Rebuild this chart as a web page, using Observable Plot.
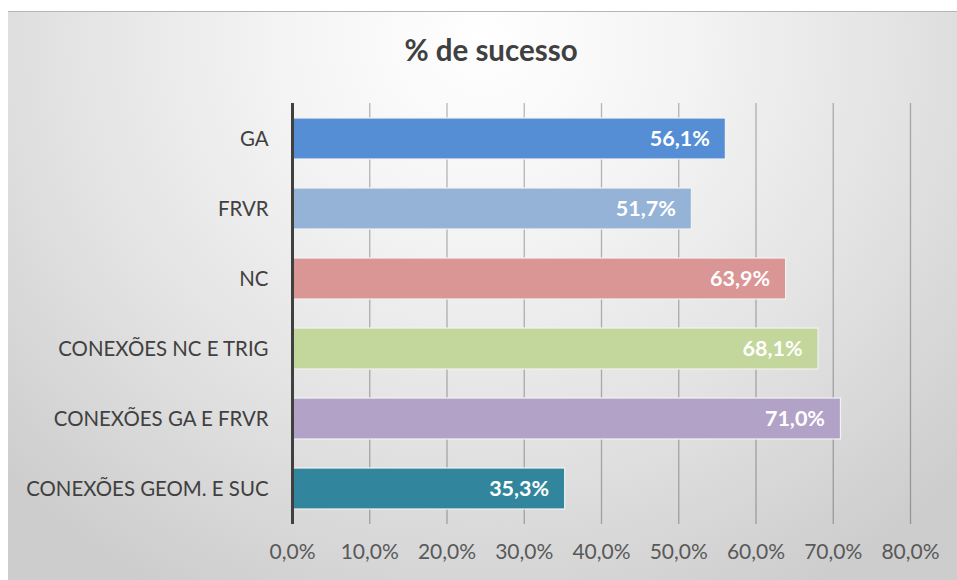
<!DOCTYPE html>
<html>
<head>
<meta charset="utf-8">
<script src="https://cdn.jsdelivr.net/npm/d3@7"></script>
<script src="https://cdn.jsdelivr.net/npm/@observablehq/plot@0.6"></script>
<style>
  html, body { margin: 0; padding: 0; background: #ffffff; }
  body { position: relative; width: 957px; height: 580px; overflow: hidden; font-family: Lato, "Open Sans", sans-serif; }
  #bg { position: absolute; left: 8px; top: 11px; width: 949px; height: 569px;
        border-top: 1px solid #b5b5b5;
        background: radial-gradient(ellipse 70% 110% at 50% 5%, #ffffff 0%, #f4f4f4 30%, #e2e2e2 65%, #cdcdcd 100%); }
  #title { position: absolute; left: 0; width: 982px; top: 32px; text-align: center;
           font-family: Lato, "Open Sans", sans-serif; font-weight: bold; font-size: 29.5px; color: #404040; }
  #chart { position: absolute; left: 0; top: 90px; }
  #chart svg { background: transparent !important; overflow: visible; }
</style>
</head>
<body>
<div id="bg"></div>
<div id="title">% de sucesso</div>
<div id="chart"></div>
<script>
const categories = ["GA", "FRVR", "NC", "CONEXÕES NC E TRIG", "CONEXÕES GA E FRVR", "CONEXÕES GEOM. E SUC"];
const values = [56.1, 51.7, 63.9, 68.1, 71.0, 35.3];
const barColors = ["#558ed5", "#95b3d7", "#d99694", "#c3d69b", "#b3a2c7", "#31859c"];
const xTicks = [0, 10, 20, 30, 40, 50, 60, 70, 80];

const data = categories.map((c, i) => ({category: c, value: values[i]}));
const fmt = v => v.toFixed(1).replace(".", ",") + "%";

const chart = Plot.plot({
  width: 957,
  height: 490,
  marginTop: 13,
  marginBottom: 56,
  marginLeft: 292,
  marginRight: 47,
  style: {background: "transparent", fontFamily: "Lato, 'Open Sans', sans-serif"},
  x: {domain: [0, 80], ticks: xTicks, tickFormat: fmt},
  y: {domain: categories, padding: 0.42, paddingOuter: 0.21, label: null},
  color: {domain: categories, range: barColors},
  marks: [
    Plot.ruleX(xTicks.slice(1), {stroke: "#000000", strokeOpacity: 0.27, strokeWidth: 1.3}),
    Plot.barX(data, {y: "category", x: "value", fill: "category", stroke: "#f2f2f2", strokeWidth: 1.2}),
    Plot.text(data, {y: "category", x: "value", text: d => fmt(d.value), textAnchor: "end", dx: -16,
      fill: "white", fontWeight: "bold", fontSize: 21.5}),
    Plot.ruleX([0], {stroke: "#404040", strokeWidth: 3}),
    Plot.axisX({ticks: xTicks, tickFormat: fmt, tickSize: 0, tickPadding: 20, fontSize: 21, color: "#595959", label: null}),
    Plot.axisY({tickSize: 0, tickPadding: 24, fontSize: 20.4, color: "#404040", label: null})
  ]
});
document.getElementById("chart").appendChild(chart);
</script>
</body>
</html>
